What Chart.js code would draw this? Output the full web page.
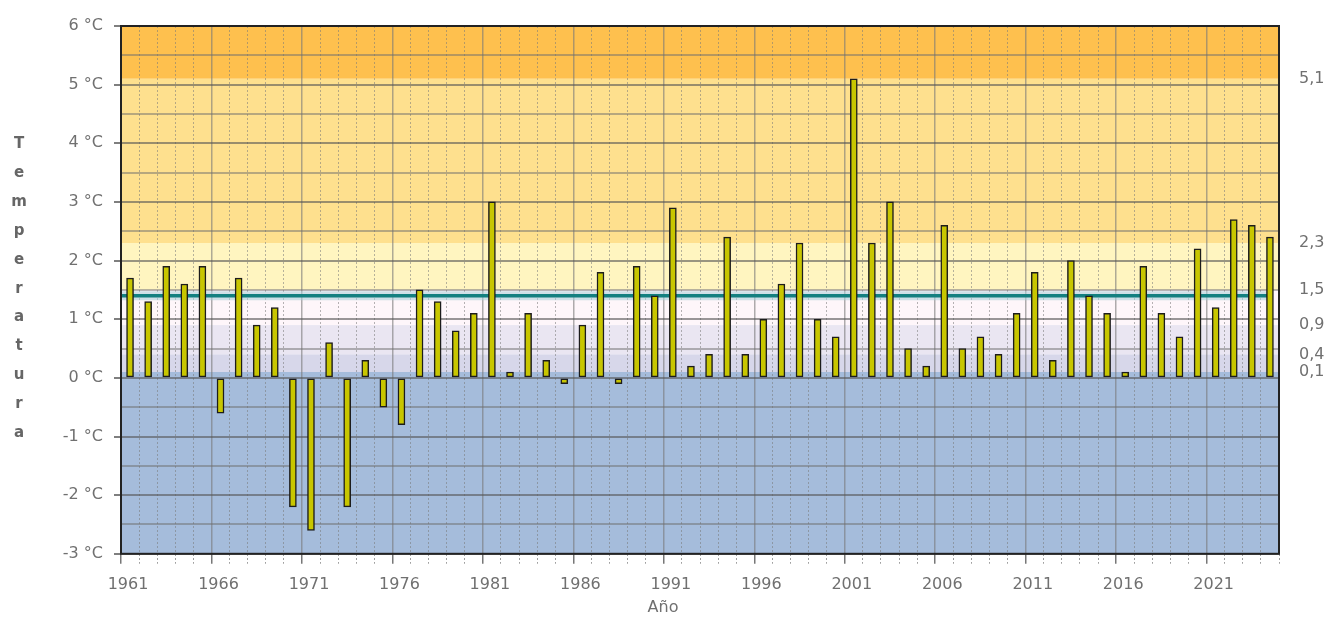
<!DOCTYPE html>
<html>
<head>
<meta charset="utf-8">
<script src="https://cdn.jsdelivr.net/npm/chart.js@4.4.1/dist/chart.umd.min.js"></script>
<style>
  html, body { margin: 0; padding: 0; background: #fff; }
  #wrap { position: relative; width: 1326px; height: 617px; }
  #ytitle {
    position: absolute; left: 0; top: 129px; width: 38px;
    text-align: center; font: bold 15px "DejaVu Sans", sans-serif;
    line-height: 28.9px; color: #666;
  }
</style>
</head>
<body>
<div id="wrap">
  <canvas id="chart"></canvas>
  <div id="ytitle"></div>
</div>
<script>
// Anomalía de temperatura por año
const years = [
  1961, 1962, 1963, 1964, 1965, 1966, 1967, 1968, 1969, 1970,
  1971, 1972, 1973, 1974, 1975, 1976, 1977, 1978, 1979, 1980,
  1981, 1982, 1983, 1984, 1985, 1986, 1987, 1988, 1989, 1990,
  1991, 1992, 1993, 1994, 1995, 1996, 1997, 1998, 1999, 2000,
  2001, 2002, 2003, 2004, 2005, 2006, 2007, 2008, 2009, 2010,
  2011, 2012, 2013, 2014, 2015, 2016, 2017, 2018, 2019, 2020,
  2021, 2022, 2023, 2024
];
const anomalies = [
  1.7, 1.3, 1.9, 1.6, 1.9, -0.6, 1.7, 0.9, 1.2, -2.2,
  -2.6, 0.6, -2.2, 0.3, -0.5, -0.8, 1.5, 1.3, 0.8, 1.1,
  3.0, 0.1, 1.1, 0.3, -0.1, 0.9, 1.8, -0.1, 1.9, 1.4,
  2.9, 0.2, 0.4, 2.4, 0.4, 1.0, 1.6, 2.3, 1.0, 0.7,
  5.1, 2.3, 3.0, 0.5, 0.2, 2.6, 0.5, 0.7, 0.4, 1.1,
  1.8, 0.3, 2.0, 1.4, 1.1, 0.1, 1.9, 1.1, 0.7, 2.2,
  1.2, 2.7, 2.6, 2.4
];
const meanLine = 1.4;
const rightTicks = [5.1, 2.3, 1.5, 0.9, 0.4, 0.1];
const bandEdges = [6, 5.1, 2.3, 1.5, 0.9, 0.4, 0.1, -3];
const bandColors = ["#FEC04E", "#FEE08E", "#FFF5C0", "#FEF6FA", "#EAE6F2", "#D7D7EA", "#A5BCDB"];
const xTitle = "Año";
const yTitle = "Temperatura";

document.getElementById("ytitle").innerHTML = yTitle.split("").join("<br>");

Chart.defaults.font.family = "'DejaVu Sans', sans-serif";
Chart.defaults.font.size = 16;
Chart.defaults.color = "#707070";

const isMajor = c => c.index % 5 === 0;
const isInt = c => c.tick && Number.isInteger(c.tick.value);

const backdrop = {
  id: "backdrop",
  beforeDraw(chart) {
    const { ctx, chartArea: a, scales: { y } } = chart;
    ctx.save();
    for (let i = 0; i < bandColors.length; i++) {
      const top = y.getPixelForValue(bandEdges[i]);
      const bot = y.getPixelForValue(bandEdges[i + 1]);
      ctx.fillStyle = bandColors[i];
      ctx.fillRect(a.left, top, a.right - a.left, bot - top);
    }
    ctx.restore();
  },
  beforeDatasetsDraw(chart) {
    const { ctx, chartArea: a, scales: { x, y } } = chart;
    const yy = y.getPixelForValue(meanLine);
    const xEnd = x.getPixelForValue(years.length - 1);
    ctx.save();
    ctx.strokeStyle = "rgba(165,205,215,0.55)";
    ctx.lineWidth = 9;
    ctx.beginPath(); ctx.moveTo(a.left, yy); ctx.lineTo(xEnd, yy); ctx.stroke();
    ctx.strokeStyle = "#138080";
    ctx.lineWidth = 3.5;
    ctx.beginPath(); ctx.moveTo(a.left, yy); ctx.lineTo(xEnd, yy); ctx.stroke();
    ctx.restore();
  },
  afterDraw(chart) {
    const { ctx, chartArea: a } = chart;
    ctx.save();
    ctx.strokeStyle = "#222";
    ctx.lineWidth = 2;
    ctx.strokeRect(a.left, a.top, a.right - a.left, a.bottom - a.top);
    ctx.restore();
  }
};

new Chart(document.getElementById("chart"), {
  type: "bar",
  data: {
    labels: years,
    datasets: [{
      data: anomalies,
      backgroundColor: "#C8C600",
      borderColor: "#1c1c1c",
      borderWidth: 1.5,
      borderSkipped: false,
      barThickness: 7
    }]
  },
  plugins: [backdrop],
  options: {
    responsive: true,
    maintainAspectRatio: false,
    animation: false,
    layout: { padding: { top: 26, left: 0, right: 0, bottom: 0 } },
    plugins: {
      legend: { display: false },
      tooltip: { enabled: false },
      title: {
        display: true, text: xTitle, position: "bottom", color: "#707070",
        font: { size: 16, weight: "normal" }, padding: { top: 0, bottom: 0 }
      }
    },
    scales: {
      x: {
        afterFit: s => { s.height = 44; },
        grid: {
          offset: true,
          color: c => (isMajor(c) ? "rgba(120,120,120,0.6)" : "rgba(120,120,120,0.55)"),
          lineWidth: c => (isMajor(c) ? 1.5 : 1),
          tickLength: 10,
          tickColor: c => (isMajor(c) ? "#777" : "rgba(120,120,120,0.7)"),
          tickBorderDash: c => (isMajor(c) ? [] : [2, 2])
        },
        border: { display: false, dash: c => (isMajor(c) ? [] : [2, 2]) },
        ticks: {
          autoSkip: false, maxRotation: 0, padding: 11, labelOffset: -2,
          callback: (v, i) => (i % 5 === 0 ? String(years[i]) : "")
        }
      },
      y: {
        min: -3, max: 6,
        afterFit: s => { s.width = 121; },
        grid: {
          color: c => (isInt(c) ? "rgba(85,85,85,0.6)" : "rgba(110,110,110,0.5)"),
          lineWidth: 2,
          tickLength: 7,
          tickWidth: 1.5,
          tickColor: c => (isInt(c) ? "#555" : "rgba(0,0,0,0)")
        },
        border: { display: false },
        ticks: {
          stepSize: 0.5, autoSkip: false, padding: 11,
          callback: v => (Number.isInteger(v) ? v + " °C" : "")
        }
      },
      y2: {
        position: "right",
        min: -3, max: 6,
        afterFit: s => { s.width = 47; },
        afterBuildTicks: s => { s.ticks = rightTicks.map(v => ({ value: v })); },
        grid: { display: false, drawTicks: true, tickLength: 20 },
        border: { display: false },
        ticks: {
          autoSkip: false, padding: 0,
          callback: v => v.toFixed(1).replace(".", ",")
        }
      }
    }
  }
});
</script>
</body>
</html>
